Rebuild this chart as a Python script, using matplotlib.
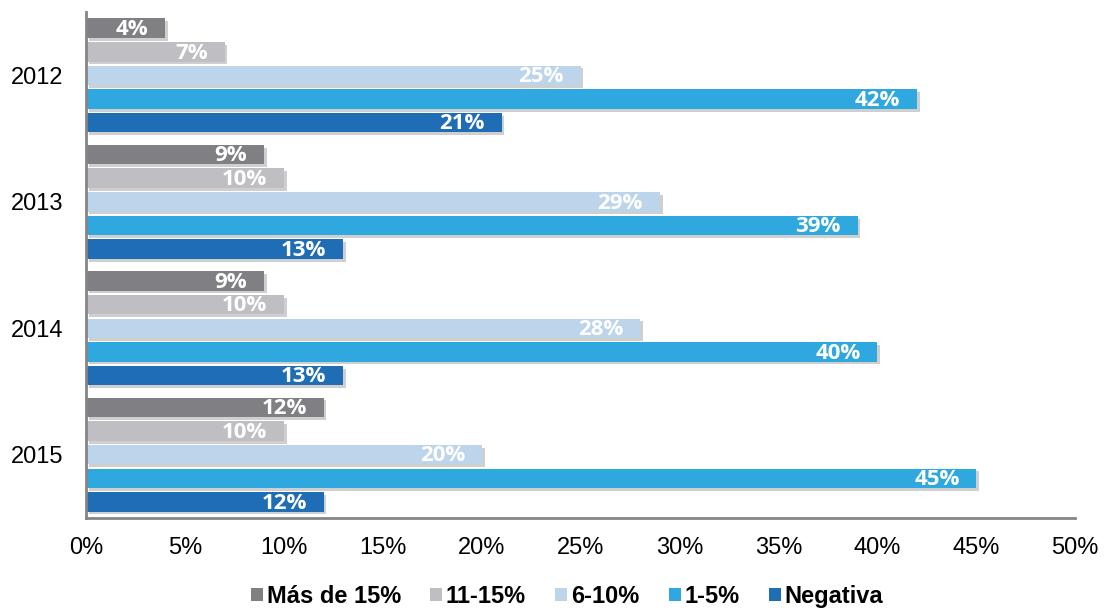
import matplotlib
matplotlib.use("Agg")
import matplotlib.pyplot as plt
import matplotlib.patheffects as pe
from matplotlib.ticker import FuncFormatter
from matplotlib.patches import Patch
import numpy as np

years = ["2012", "2013", "2014", "2015"]
series_names = ["Más de 15%", "11-15%", "6-10%", "1-5%", "Negativa"]
mas_de_15 = [4, 9, 9, 12]
r11_15 = [7, 10, 10, 10]
r6_10 = [25, 29, 28, 20]
r1_5 = [42, 39, 40, 45]
negativa = [21, 13, 13, 12]
series_values = [mas_de_15, r11_15, r6_10, r1_5, negativa]
colors = ["#808084", "#bfbfc3", "#bdd5ea", "#2ea8de", "#1f6db5"]

fig = plt.figure(figsize=(11.04, 6.10), dpi=100)
ax = fig.add_axes([0.078, 0.151, 0.896, 0.829])

slot = 0.187
height = 0.154
y_pos = np.arange(len(years))
shadow = [pe.SimplePatchShadow(offset=(2, -2), shadow_rgbFace="#a0a0a0", alpha=0.5), pe.Normal()]

for i, (name, vals, col) in enumerate(zip(series_names, series_values, colors)):
    offs = (i - 2) * slot
    bars = ax.barh(y_pos + offs, vals, height=height, color=col, label=name,
                   path_effects=shadow, zorder=2)
    for b, v in zip(bars, vals):
        ax.text(v - 0.85, b.get_y() + b.get_height() / 2 + 0.01, f"{v}%",
                ha="right", va="center", color="white", fontsize=16,
                fontweight="bold", family="Open Sans", zorder=3)

ax.set_ylim(3.5, -0.5)
ax.set_xlim(0, 50)
ax.set_xticks(np.arange(0, 51, 5))
ax.xaxis.set_major_formatter(FuncFormatter(lambda x, _: f"{x:.0f}%"))
ax.set_yticks(y_pos)
ax.set_yticklabels(years)
ax.tick_params(axis="both", length=0, labelsize=17)
ax.tick_params(axis="y", pad=16.5)
ax.tick_params(axis="x", pad=14)
for lab in ax.get_xticklabels() + ax.get_yticklabels():
    lab.set_family("Liberation Sans")

for s in ["top", "right"]:
    ax.spines[s].set_visible(False)
for s in ["left", "bottom"]:
    ax.spines[s].set_color("#858588")
    ax.spines[s].set_linewidth(2)

handles = [Patch(facecolor=c, edgecolor="none", label=n) for n, c in zip(series_names, colors)]
leg = fig.legend(handles=handles, loc="center", bbox_to_anchor=(0.5137, 0.022), ncol=5,
                 frameon=False, handlelength=0.5, handleheight=0.5, handletextpad=0.17,
                 columnspacing=1.24, borderpad=0, borderaxespad=0,
                 prop={"family": "Liberation Sans", "weight": "bold", "size": 17})

fig.savefig("out.png", dpi=100)
